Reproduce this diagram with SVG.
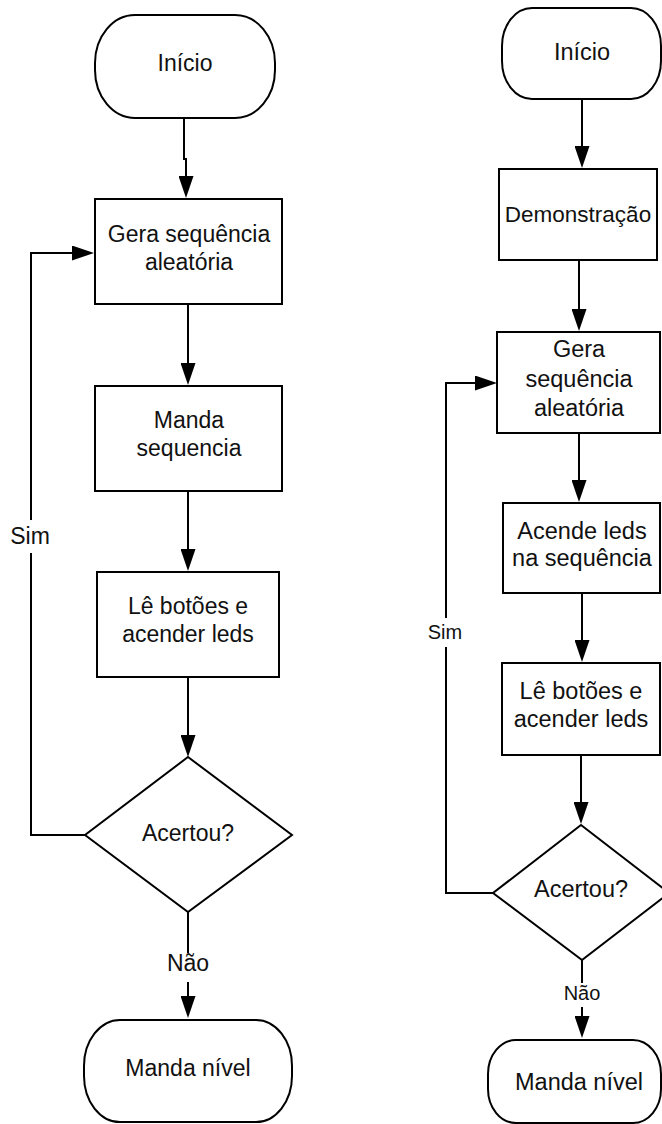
<svg xmlns="http://www.w3.org/2000/svg" width="662" height="1124" viewBox="0 0 662 1124">
  <style>
    .shape { fill: #ffffff; stroke: #000000; stroke-width: 2; }
    .edge { fill: none; stroke: #000000; stroke-width: 2; }
    .t { font-family: "Liberation Sans", Arial, sans-serif; fill: #111111; text-anchor: middle; }
    .l { font-size: 23px; }
    .r { font-size: 23.5px; }
    .rd { font-size: 22.5px; }
    .lbl { font-size: 23px; }
    .lbl-s { font-size: 20px; }
  </style>
  <defs>
    <marker id="arrow" markerUnits="userSpaceOnUse" markerWidth="22" markerHeight="15" viewBox="0 0 22 15" refX="0" refY="7.5" orient="auto">
      <path d="M0 0 L22 7.5 L0 15 Z" fill="#000000"/>
    </marker>
  </defs>
  <rect width="662" height="1124" fill="#ffffff"/>

  <!-- Left flowchart -->
  <g id="connectors-left">
    <path class="edge" d="M184 118 V159 H186 V176" marker-end="url(#arrow)"/>
    <path class="edge" d="M188 304 V363" marker-end="url(#arrow)"/>
    <path class="edge" d="M188 491 V549" marker-end="url(#arrow)"/>
    <path class="edge" d="M188 677 V735" marker-end="url(#arrow)"/>
    <path class="edge" d="M188 912 V953"/>
    <path class="edge" d="M188 982 V996" marker-end="url(#arrow)"/>
    <path class="edge" d="M85 835 H31 V553"/>
    <path class="edge" d="M31 520 V253 H72" marker-end="url(#arrow)"/>
    <text class="t lbl" x="30" y="544">Sim</text>
    <text class="t lbl" x="188" y="971">Não</text>
  </g>

  <g id="l-inicio">
    <rect class="shape" x="95" y="15" width="180" height="103" rx="40" ry="48"/>
    <text class="t l" x="185" y="71">Início</text>
  </g>
  <g id="l-gera">
    <rect class="shape" x="95" y="199" width="187" height="105"/>
    <text class="t l" x="189" y="242">Gera sequência</text>
    <text class="t l" x="189" y="270">aleatória</text>
  </g>
  <g id="l-manda">
    <rect class="shape" x="95" y="386" width="187" height="105"/>
    <text class="t l" x="189" y="428">Manda</text>
    <text class="t l" x="189" y="456">sequencia</text>
  </g>
  <g id="l-le">
    <rect class="shape" x="97" y="572" width="182" height="105"/>
    <text class="t l" x="188" y="614">Lê botões e</text>
    <text class="t l" x="188" y="642">acender leds</text>
  </g>
  <g id="l-acertou">
    <polygon class="shape" points="188,757 292,835 188,912 85,835"/>
    <text class="t l" x="188" y="841">Acertou?</text>
  </g>
  <g id="l-nivel">
    <rect class="shape" x="84" y="1020" width="208" height="102" rx="36" ry="46"/>
    <text class="t l" x="188" y="1076">Manda nível</text>
  </g>

  <!-- Right flowchart -->
  <g id="connectors-right">
    <path class="edge" d="M582 99 V146" marker-end="url(#arrow)"/>
    <path class="edge" d="M579 260 V309" marker-end="url(#arrow)"/>
    <path class="edge" d="M579 433 V480" marker-end="url(#arrow)"/>
    <path class="edge" d="M582 593 V640" marker-end="url(#arrow)"/>
    <path class="edge" d="M581 755 V802" marker-end="url(#arrow)"/>
    <path class="edge" d="M582 960 V983"/>
    <path class="edge" d="M582 1007 V1016" marker-end="url(#arrow)"/>
    <path class="edge" d="M493 893 H446 V647"/>
    <path class="edge" d="M446 618 V383 H475" marker-end="url(#arrow)"/>
    <text class="t lbl-s" x="445" y="639">Sim</text>
    <text class="t lbl-s" x="582" y="1000">Não</text>
  </g>

  <g id="r-inicio">
    <rect class="shape" x="502" y="8" width="159" height="91" rx="30" ry="38"/>
    <text class="t r" x="582" y="60">Início</text>
  </g>
  <g id="r-demo">
    <rect class="shape" x="499" y="169" width="158" height="91"/>
    <text class="t rd" x="578" y="222">Demonstração</text>
  </g>
  <g id="r-gera">
    <rect class="shape" x="497" y="332" width="163" height="101"/>
    <text class="t r" x="579" y="357">Gera</text>
    <text class="t r" x="579" y="387">sequência</text>
    <text class="t r" x="579" y="416">aleatória</text>
  </g>
  <g id="r-acende">
    <rect class="shape" x="503" y="503" width="157" height="90"/>
    <text class="t r" x="582" y="539">Acende leds</text>
    <text class="t r" x="582" y="566">na sequência</text>
  </g>
  <g id="r-le">
    <rect class="shape" x="502" y="663" width="158" height="92"/>
    <text class="t r" x="581" y="699">Lê botões e</text>
    <text class="t r" x="581" y="727">acender leds</text>
  </g>
  <g id="r-acertou">
    <polygon class="shape" points="581,825 669,893 582,960 493,893"/>
    <text class="t r" x="581" y="897">Acertou?</text>
  </g>
  <g id="r-nivel">
    <rect class="shape" x="488" y="1040" width="173" height="83" rx="28" ry="34"/>
    <text class="t r" x="579" y="1090">Manda nível</text>
  </g>
</svg>
